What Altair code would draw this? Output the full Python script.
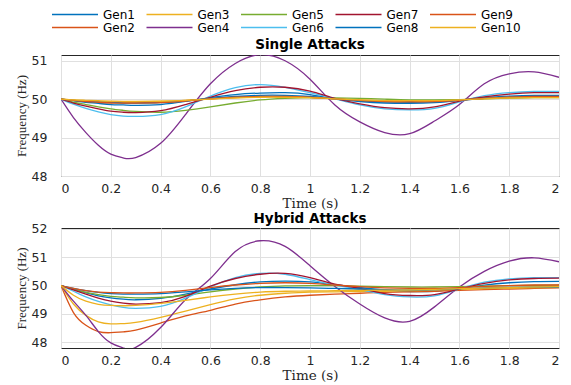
import altair as alt
import pandas as pd

times = [0, 0.05, 0.1, 0.15, 0.2, 0.25, 0.3, 0.4, 0.5, 0.6, 0.7, 0.8, 0.9, 1.0,
         1.1, 1.2, 1.3, 1.4, 1.5, 1.6, 1.7, 1.8, 1.9, 2.0]

gens = ["Gen1", "Gen2", "Gen3", "Gen4", "Gen5", "Gen6", "Gen7", "Gen8", "Gen9", "Gen10"]
gen_colors = ["#0072BD", "#D95319", "#EDB120", "#7E2F8E", "#77AC30",
              "#4DBEEE", "#A2142F", "#0072BD", "#D95319", "#EDB120"]

single_gen1 = [50, 49.96, 49.92, 49.89, 49.86, 49.85, 49.84, 49.86, 49.94, 50.04, 50.12, 50.16, 50.17, 50.12, 50.01, 49.94, 49.9, 49.89, 49.91, 49.97, 50.04, 50.08, 50.1, 50.1]
single_gen2 = [50, 49.97, 49.95, 49.93, 49.92, 49.91, 49.91, 49.92, 49.96, 50.01, 50.05, 50.07, 50.07, 50.05, 50.01, 49.97, 49.95, 49.94, 49.95, 49.98, 50.02, 50.05, 50.06, 50.06]
single_gen3 = [50, 49.98, 49.96, 49.94, 49.93, 49.93, 49.93, 49.94, 49.97, 50.01, 50.04, 50.06, 50.06, 50.04, 50.01, 49.98, 49.96, 49.95, 49.96, 49.98, 50.02, 50.04, 50.05, 50.05]
single_gen4 = [50, 49.52, 49.13, 48.8, 48.57, 48.47, 48.48, 48.85, 49.6, 50.4, 50.93, 51.16, 51.0, 50.52, 49.85, 49.41, 49.13, 49.1, 49.43, 49.86, 50.4, 50.66, 50.71, 50.57]
single_gen5 = [50, 49.92, 49.86, 49.8, 49.75, 49.71, 49.68, 49.66, 49.71, 49.8, 49.9, 49.98, 50.02, 50.04, 50.03, 50.02, 50.0, 49.98, 49.98, 49.99, 50.01, 50.03, 50.04, 50.04]
single_gen6 = [50, 49.87, 49.76, 49.67, 49.6, 49.56, 49.55, 49.6, 49.8, 50.08, 50.3, 50.38, 50.31, 50.17, 50.01, 49.85, 49.75, 49.72, 49.76, 49.93, 50.09, 50.17, 50.2, 50.2]
single_gen7 = [50, 49.9, 49.82, 49.75, 49.69, 49.66, 49.65, 49.7, 49.86, 50.05, 50.22, 50.31, 50.31, 50.21, 50.02, 49.88, 49.78, 49.75, 49.8, 49.95, 50.06, 50.13, 50.17, 50.17]
single_gen8 = [50, 49.97, 49.94, 49.92, 49.91, 49.9, 49.9, 49.91, 49.95, 50.02, 50.07, 50.1, 50.1, 50.07, 50.01, 49.96, 49.93, 49.92, 49.93, 49.97, 50.02, 50.05, 50.07, 50.07]
single_gen9 = [50, 49.97, 49.94, 49.92, 49.9, 49.9, 49.9, 49.91, 49.95, 50.01, 50.05, 50.07, 50.07, 50.05, 50.01, 49.97, 49.94, 49.93, 49.94, 49.97, 50.02, 50.05, 50.07, 50.07]
single_gen10 = [50, 49.98, 49.97, 49.96, 49.95, 49.94, 49.94, 49.95, 49.97, 50.0, 50.03, 50.05, 50.05, 50.04, 50.01, 49.98, 49.96, 49.96, 49.96, 49.98, 50.01, 50.03, 50.04, 50.04]

hybrid_gen1 = [50, 49.87, 49.75, 49.64, 49.57, 49.52, 49.5, 49.55, 49.7, 49.88, 50.03, 50.13, 50.16, 50.13, 50.03, 49.93, 49.84, 49.79, 49.8, 49.9, 50.02, 50.1, 50.14, 50.15]
hybrid_gen2 = [50, 49.05, 48.6, 48.38, 48.34, 48.37, 48.43, 48.68, 48.93, 49.13, 49.35, 49.5, 49.6, 49.66, 49.7, 49.73, 49.76, 49.78, 49.8, 49.83, 49.86, 49.88, 49.9, 49.92]
hybrid_gen3 = [50, 49.35, 48.95, 48.72, 48.65, 48.66, 48.7, 48.88, 49.1, 49.33, 49.53, 49.66, 49.73, 49.77, 49.78, 49.79, 49.8, 49.82, 49.84, 49.87, 49.89, 49.91, 49.93, 49.94]
hybrid_gen4 = [50, 49.45, 48.95, 48.38, 47.98, 47.8, 47.82, 48.52, 49.5, 50.25, 51.2, 51.58, 51.38, 50.7, 49.97, 49.35, 48.86, 48.74, 49.25, 49.95, 50.5, 50.86, 50.98, 50.84]
hybrid_gen5 = [50, 49.87, 49.76, 49.68, 49.62, 49.59, 49.57, 49.58, 49.66, 49.78, 49.88, 49.95, 49.99, 50.0, 50.0, 49.98, 49.96, 49.95, 49.95, 49.96, 49.98, 50.0, 50.01, 50.02]
hybrid_gen6 = [50, 49.8, 49.6, 49.44, 49.32, 49.23, 49.2, 49.27, 49.56, 49.95, 50.28, 50.43, 50.4, 50.21, 50.02, 49.86, 49.68, 49.6, 49.64, 49.88, 50.12, 50.24, 50.28, 50.28]
hybrid_gen7 = [50, 49.85, 49.7, 49.56, 49.45, 49.38, 49.35, 49.4, 49.62, 49.98, 50.25, 50.4, 50.43, 50.28, 50.05, 49.9, 49.72, 49.65, 49.68, 49.88, 50.08, 50.2, 50.25, 50.26]
hybrid_gen8 = [50, 49.9, 49.82, 49.76, 49.72, 49.7, 49.7, 49.72, 49.78, 49.85, 49.9, 49.93, 49.93, 49.92, 49.9, 49.88, 49.86, 49.85, 49.86, 49.89, 49.92, 49.94, 49.95, 49.95]
hybrid_gen9 = [50, 49.9, 49.82, 49.77, 49.75, 49.74, 49.74, 49.76, 49.83, 49.93, 50.02, 50.08, 50.1, 50.08, 50.02, 49.96, 49.92, 49.9, 49.9, 49.93, 49.97, 50.0, 50.02, 50.02]
hybrid_gen10 = [50, 49.66, 49.45, 49.34, 49.3, 49.29, 49.3, 49.37, 49.48, 49.6, 49.7, 49.77, 49.8, 49.81, 49.82, 49.83, 49.84, 49.85, 49.87, 49.89, 49.91, 49.93, 49.95, 49.96]

single = [single_gen1, single_gen2, single_gen3, single_gen4, single_gen5,
          single_gen6, single_gen7, single_gen8, single_gen9, single_gen10]
hybrid = [hybrid_gen1, hybrid_gen2, hybrid_gen3, hybrid_gen4, hybrid_gen5,
          hybrid_gen6, hybrid_gen7, hybrid_gen8, hybrid_gen9, hybrid_gen10]

x_ticks = [0, 0.2, 0.4, 0.6, 0.8, 1, 1.2, 1.4, 1.6, 1.8, 2]
single_y_ticks = [48, 49, 50, 51]
hybrid_y_ticks = [48, 49, 50, 51, 52]

rows = []
for panel_name, series in (("Single Attacks", single), ("Hybrid Attacks", hybrid)):
    for gi, (g, vals) in enumerate(zip(gens, series)):
        for t, v in zip(times, vals):
            rows.append({"panel": panel_name, "gen": g, "order": gi, "t": t, "f": v})
df = pd.DataFrame(rows)

legend_order = ["Gen1", "Gen3", "Gen5", "Gen7", "Gen9", "Gen2", "Gen4", "Gen6", "Gen8", "Gen10"]
color_scale = alt.Scale(domain=legend_order,
                        range=[gen_colors[gens.index(g)] for g in legend_order])

legend = alt.Legend(
    title=None, orient="none", legendX=-10, legendY=-47, direction="horizontal",
    columns=5, symbolType="stroke", symbolSize=2116, symbolStrokeWidth=1.5,
    labelFont="DejaVu Sans", labelFontSize=12, labelColor="#000000",
    labelOffset=4, columnPadding=2.5, rowPadding=0, gridAlign="all", clipHeight=13,
)


def panel(name, ydom, yticks, height, title_offset):
    return alt.Chart(df).transform_filter(alt.datum.panel == name).mark_line(
        strokeWidth=1.3, interpolate="natural", clip=True
    ).encode(
        x=alt.X("t:Q", scale=alt.Scale(domain=[0, 2], nice=False),
                axis=alt.Axis(values=x_ticks, format="~g", title="Time (s)")),
        y=alt.Y("f:Q", scale=alt.Scale(domain=ydom, nice=False, zero=False),
                axis=alt.Axis(values=yticks, format="d", title="Frequency (Hz)")),
        color=alt.Color("gen:N", scale=color_scale, legend=legend),
        order=alt.Order("order:Q"),
    ).properties(
        width=498, height=height,
        title=alt.TitleParams(name, fontSize=13.5, font="DejaVu Sans", fontWeight="bold",
                              color="#000000", offset=title_offset, frame="group"),
    )


top = panel("Single Attacks", [48, 51.15], single_y_ticks, 121, 3)
bottom = panel("Hybrid Attacks", [47.8, 52.03], hybrid_y_ticks, 120, -3)

chart = alt.vconcat(top, bottom, spacing=0).properties(
    padding={"left": 6, "top": 0, "right": 0, "bottom": 0}
).configure_view(
    stroke="#262626", strokeWidth=1
).configure_axis(
    domain=False, ticks=False, grid=True, gridColor="#e0e0e0", gridWidth=1,
    labelFont="DejaVu Sans", labelFontSize=12.5, labelColor="#262626",
    titleFont="Liberation Serif", titleFontWeight="normal", titleColor="#262626",
).configure_axisX(
    labelPadding=6, titleFont="DejaVu Serif", titleFontSize=13.5, titlePadding=2,
).configure_axisY(
    labelPadding=14, titleFontSize=13, titlePadding=3,
)

chart.save("out.html", embed_options={"renderer": "svg", "actions": False})
